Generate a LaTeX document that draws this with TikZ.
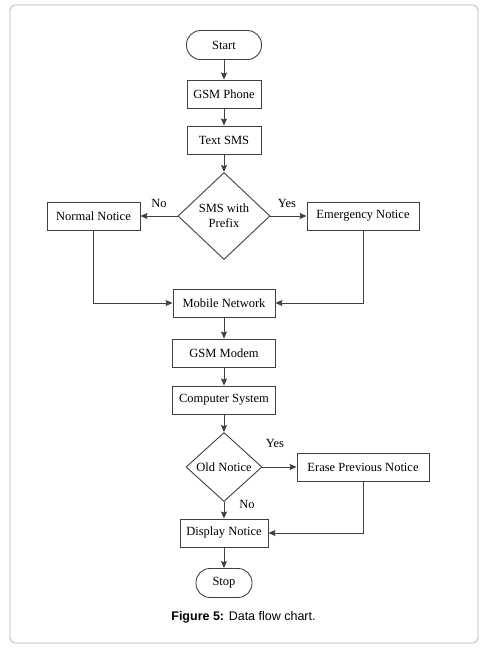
\documentclass[tikz,border=0pt]{standalone}
\usepackage{fontspec}
\setmainfont{Liberation Serif}
\newfontfamily\capfont{Liberation Sans}
\usetikzlibrary{shapes.geometric,arrows.meta}
\definecolor{ln}{HTML}{404040}
\tikzset{
  box/.style={draw=ln, line width=0.9pt, rectangle, minimum height=28pt, inner sep=0pt, font=\fontsize{12.5}{14}\selectfont},
  term/.style={draw=ln, line width=0.9pt, rectangle, rounded corners=14pt, minimum height=29pt, inner sep=0pt, font=\fontsize{12.5}{14}\selectfont},
  dec/.style={draw=ln, line width=0.9pt, diamond, inner sep=0pt, font=\fontsize{12.5}{15}\selectfont, align=center},
  arr/.style={draw=ln, line width=0.9pt, -{Stealth[length=7pt,width=6pt,inset=1pt]}},
  lbl/.style={font=\fontsize{12.5}{14}\selectfont, inner sep=0pt}
}
\begin{document}
\begin{tikzpicture}[x=1pt,y=-1pt]
\useasboundingbox (0,0) rectangle (492,654);
\draw[draw=black!30, line width=0.8pt, rounded corners=5pt] (10,5) rectangle (478,643);
\node[term, minimum width=75pt] (start) at (224,45) {Start};
\node[box, minimum width=74pt] (phone) at (224,94) {GSM Phone};
\node[box, minimum width=74pt] (sms) at (224,140) {Text SMS};
\node[dec, minimum width=92pt, minimum height=87pt] (pre) at (224,216) {SMS with\\Prefix};
\node[box, minimum width=93pt] (normal) at (93.5,216) {Normal Notice};
\node[box, minimum width=112pt] (emerg) at (363,216) {Emergency Notice};
\node[box, minimum width=102pt] (mobile) at (224,303) {Mobile Network};
\node[box, minimum width=103pt] (modem) at (224,353) {GSM Modem};
\node[box, minimum width=103pt] (comp) at (224,400) {Computer System};
\node[dec, minimum width=76pt, minimum height=69pt] (old) at (224,467) {Old Notice};
\node[box, minimum width=132pt] (erase) at (363,467) {Erase Previous Notice};
\node[box, minimum width=88pt] (disp) at (224,533) {Display Notice};
\node[term, minimum width=56pt] (stop) at (224,583) {Stop};
\node[lbl] (no1) at (159,203) {No};
\node[lbl] (yes1) at (287,203) {Yes};
\node[lbl] (yes2) at (275,443) {Yes};
\node[lbl] (no2) at (247,504) {No};
\node[font=\capfont\fontsize{12.5}{14}\selectfont, inner sep=0pt] (cap) at (243.5,617) {\textbf{Figure 5:} Data flow chart.};
\draw[arr] (start) -- (phone);
\draw[arr] (phone) -- (sms);
\draw[arr] (sms) -- (pre);
\draw[arr] (pre) -- (normal);
\draw[arr] (pre) -- (emerg);
\draw[arr] (normal.south) |- (mobile.west);
\draw[arr] (emerg.south) |- (mobile.east);
\draw[arr] (mobile) -- (modem);
\draw[arr] (modem) -- (comp);
\draw[arr] (comp) -- (old);
\draw[arr] (old) -- (erase);
\draw[arr] (old) -- (disp);
\draw[arr] (erase.south) |- (disp.east);
\draw[arr] (disp) -- (stop);
\end{tikzpicture}
\end{document}
